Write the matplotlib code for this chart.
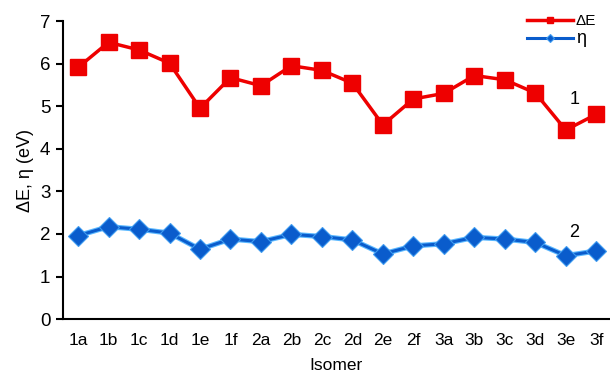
import matplotlib.pyplot as plt
import numpy as np

plt.rcParams['font.family'] = ['Liberation Sans', 'DejaVu Sans']

isomers = ['1a', '1b', '1c', '1d', '1e', '1f', '2a', '2b', '2c', '2d',
           '2e', '2f', '3a', '3b', '3c', '3d', '3e', '3f']
delta_e = [5.91, 6.50, 6.32, 6.01, 4.95, 5.67, 5.48, 5.95, 5.84, 5.54,
           4.56, 5.17, 5.30, 5.72, 5.62, 5.31, 4.44, 4.81]
eta = [1.96, 2.17, 2.11, 2.02, 1.64, 1.88, 1.82, 1.99, 1.94, 1.86,
       1.53, 1.72, 1.77, 1.92, 1.88, 1.80, 1.49, 1.60]

x = np.arange(len(isomers))

fig = plt.figure(figsize=(6.1, 3.75), dpi=100)
ax = fig.add_axes([0.103, 0.149, 0.897, 0.795])

ax.plot(x, delta_e, color='#ee0000', lw=2.5, marker='s', ms=12,
        label='ΔE')
# light halo under the blue line
ax.plot(x, eta, color='#5ab8ff', lw=3.8, zorder=1.9)
ax.plot(x, eta, color='#0a5ccc', lw=2.2, marker='D', ms=10,
        mec='#3f9cf0', mew=0.8, label='η')

ax.text(16.28, 5.15, '1', fontsize=13, ha='center', va='center')
ax.text(16.28, 2.03, '2', fontsize=13, ha='center', va='center')

ax.set_xlim(-0.5, 17.45)
ax.set_ylim(0, 7)
ax.set_yticks(range(8))
ax.set_xticks(x)
ax.set_xticklabels(isomers)
ax.tick_params(axis='x', length=0, labelsize=12.5, pad=10)
ax.tick_params(axis='y', length=5, width=1.5, labelsize=13.5, pad=4)

for side in ['top', 'right']:
    ax.spines[side].set_visible(False)
for side in ['left', 'bottom']:
    ax.spines[side].set_linewidth(1.5)

ax.set_xlabel('Isomer', fontsize=12.5, labelpad=7)
ax.set_ylabel('ΔE, η (eV)', fontsize=13, labelpad=4)

leg = ax.legend(loc='upper right', bbox_to_anchor=(1.0, 1.07), frameon=False,
                fontsize=11, markerscale=0.4, handlelength=3.0,
                handletextpad=0.2, labelspacing=0.15)
leg.get_texts()[1].set_fontsize(13)

fig.savefig('out.png', dpi=100)
